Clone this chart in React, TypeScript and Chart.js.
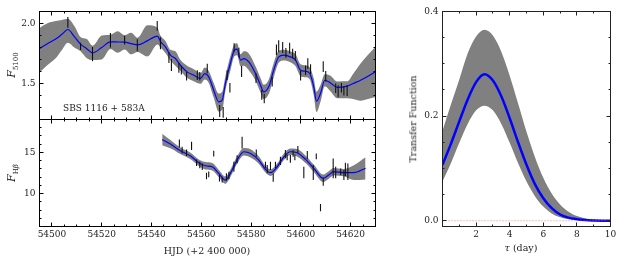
import React, { useEffect, useRef } from 'react';
import { Chart, registerables } from 'chart.js';
Chart.register(...registerables);

// ---------------- DATA ----------------
// Continuum light curve (F5100)
const contT = [54506.4, 54511.5, 54516.3, 54523.5, 54529.2, 54534.3, 54542.3, 54543.6, 54547.0, 54548.0, 54551.0, 54552.0, 54554.1, 54558.4, 54559.4, 54562.4, 54567.4, 54568.8, 54570.4, 54571.5, 54573.2, 54575.1, 54576.2, 54582.0, 54584.3, 54585.3, 54588.5, 54590.2, 54591.1, 54592.7, 54594.0, 54595.5, 54596.7, 54597.8, 54599.9, 54601.9, 54602.8, 54603.9, 54609.0, 54610.0, 54614.0, 54615.0, 54616.3, 54617.3, 54618.6];
const contF = [2.01, 1.81, 1.745, 1.86, 1.86, 1.818, 1.98, 1.835, 1.715, 1.655, 1.63, 1.61, 1.56, 1.57, 1.56, 1.625, 1.27, 1.26, 1.57, 1.465, 1.80, 1.758, 1.60, 1.545, 1.405, 1.375, 1.515, 1.78, 1.81, 1.80, 1.755, 1.795, 1.75, 1.73, 1.565, 1.61, 1.665, 1.62, 1.64, 1.56, 1.46, 1.435, 1.465, 1.44, 1.44];
const contE = [0.045, 0.03, 0.06, 0.06, 0.035, 0.05, 0.04, 0.05, 0.045, 0.05, 0.04, 0.035, 0.035, 0.04, 0.035, 0.04, 0.05, 0.045, 0.04, 0.04, 0.035, 0.04, 0.045, 0.04, 0.04, 0.04, 0.04, 0.045, 0.05, 0.045, 0.04, 0.045, 0.04, 0.04, 0.04, 0.04, 0.045, 0.04, 0.045, 0.045, 0.04, 0.05, 0.04, 0.04, 0.045];

// Continuum model (blue line) and its uncertainty band
const contModelT = [54495, 54498, 54501.5, 54504, 54506.4, 54509, 54511.5, 54514, 54516.3, 54520, 54523.5, 54526.4, 54529.2, 54531.8, 54534.4, 54538.3, 54542.4, 54543.6, 54545.6, 54547.6, 54549.6, 54551.6, 54554.3, 54557, 54559.7, 54561.4, 54563, 54565, 54567, 54568.4, 54569.7, 54571.7, 54573.3, 54574.4, 54575.8, 54577.1, 54579.1, 54581.8, 54583.8, 54585.1, 54587.1, 54589.1, 54591.1, 54593.2, 54595.8, 54597.9, 54599.9, 54601.9, 54603.6, 54605.2, 54606.3, 54607.9, 54609.6, 54611.9, 54614.6, 54618.6, 54621, 54624, 54627, 54630];
const contModelF = [1.792, 1.83, 1.87, 1.91, 1.95, 1.89, 1.828, 1.79, 1.755, 1.80, 1.847, 1.846, 1.844, 1.833, 1.822, 1.855, 1.895, 1.85, 1.805, 1.736, 1.708, 1.652, 1.597, 1.569, 1.542, 1.583, 1.555, 1.444, 1.347, 1.361, 1.502, 1.669, 1.777, 1.786, 1.694, 1.708, 1.68, 1.583, 1.486, 1.43, 1.472, 1.611, 1.722, 1.736, 1.722, 1.694, 1.611, 1.602, 1.583, 1.472, 1.352, 1.417, 1.527, 1.505, 1.467, 1.478, 1.50, 1.527, 1.56, 1.597];
const contModelUp = [0.17, 0.17, 0.15, 0.12, 0.09, 0.09, 0.06, 0.08, 0.06, 0.10, 0.06, 0.09, 0.06, 0.09, 0.06, 0.13, 0.07, 0.05, 0.05, 0.045, 0.06, 0.045, 0.05, 0.05, 0.045, 0.05, 0.05, 0.06, 0.07, 0.07, 0.06, 0.06, 0.05, 0.05, 0.05, 0.06, 0.07, 0.06, 0.06, 0.06, 0.06, 0.06, 0.05, 0.045, 0.045, 0.05, 0.05, 0.05, 0.05, 0.07, 0.08, 0.07, 0.05, 0.06, 0.05, 0.04, 0.08, 0.14, 0.18, 0.21];
const contModelDown = [0.20, 0.18, 0.16, 0.13, 0.11, 0.09, 0.06, 0.08, 0.06, 0.10, 0.06, 0.09, 0.06, 0.09, 0.06, 0.13, 0.07, 0.05, 0.05, 0.045, 0.06, 0.045, 0.05, 0.05, 0.045, 0.05, 0.05, 0.06, 0.08, 0.08, 0.06, 0.06, 0.05, 0.05, 0.05, 0.06, 0.07, 0.06, 0.06, 0.06, 0.06, 0.06, 0.05, 0.045, 0.045, 0.05, 0.05, 0.05, 0.05, 0.07, 0.09, 0.07, 0.05, 0.07, 0.09, 0.10, 0.13, 0.17, 0.19, 0.21];

// H-beta light curve
const hbT = [54551.2, 54552.3, 54554.1, 54556.1, 54558.1, 54559.4, 54560.4, 54562.1, 54563.0, 54565.0, 54567.3, 54568.4, 54570.1, 54571.1, 54573.1, 54574.4, 54576.4, 54582.1, 54585.8, 54586.5, 54587.8, 54588.9, 54589.8, 54591.8, 54593.8, 54594.5, 54595.8, 54596.9, 54597.6, 54598.8, 54601.2, 54602.6, 54605.0, 54606.2, 54607.9, 54609.0, 54613.0, 54614.0, 54616.0, 54617.3, 54617.9, 54618.9];
const hbF = [16.09, 15.28, 14.96, 15.79, 13.75, 13.47, 13.26, 12.14, 12.32, 14.84, 11.86, 11.69, 12.02, 12.2, 13.26, 14.17, 16.19, 14.92, 13.47, 12.96, 13.37, 11.95, 13.47, 13.97, 14.78, 14.4, 14.22, 14.86, 14.4, 15.37, 12.56, 14.68, 12.56, 14.52, 8.29, 11.45, 13.07, 12.56, 12.66, 12.26, 12.94, 12.66];
const hbE = [0.48, 0.4, 0.4, 0.5, 0.4, 0.4, 0.4, 0.4, 0.35, 0.35, 0.4, 0.35, 0.45, 0.45, 0.6, 0.5, 0.7, 0.45, 0.4, 0.5, 0.5, 0.5, 0.4, 0.5, 0.5, 0.36, 0.46, 0.4, 0.36, 0.4, 0.7, 0.5, 0.9, 0.36, 0.45, 0.5, 1.2, 0.7, 0.4, 0.6, 0.8, 1.0];

// H-beta model and band half-width
const hbModelT = [54544.3, 54547.6, 54551.6, 54555.7, 54559, 54561.7, 54564.4, 54567, 54569.7, 54571.7, 54574.4, 54577.1, 54579.8, 54583.1, 54585.8, 54587.8, 54590.5, 54593.2, 54595.8, 54598.5, 54601.9, 54605.2, 54609, 54611.2, 54613.2, 54617.3, 54621.3, 54626];
const hbModelF = [16.58, 16.01, 15.2, 14.56, 13.75, 13.38, 13.26, 12.46, 11.65, 12.46, 14.07, 15.08, 14.88, 14.07, 12.95, 12.54, 13.26, 14.47, 15.08, 14.96, 14.16, 13.07, 11.86, 12.26, 12.66, 12.54, 12.54, 13.07];
const hbModelW = [0.7, 0.5, 0.4, 0.4, 0.4, 0.45, 0.45, 0.45, 0.45, 0.45, 0.45, 0.45, 0.5, 0.45, 0.4, 0.4, 0.4, 0.4, 0.4, 0.45, 0.45, 0.45, 0.45, 0.45, 0.45, 0.45, 0.9, 1.35];

// Transfer function
const tau = [0, 0.5, 1, 1.5, 2, 2.5, 3, 3.5, 4, 4.5, 5, 5.5, 6, 6.5, 7, 7.5, 8, 8.5, 9, 9.5, 10];
const tfMedian = [0.107, 0.147, 0.19, 0.232, 0.265, 0.28, 0.268, 0.238, 0.196, 0.15, 0.107, 0.07, 0.043, 0.024, 0.012, 0.006, 0.003, 0.0012, 0.0005, 0.0002, 0.0001];
const tfHigh = [0.172, 0.222, 0.27, 0.32, 0.352, 0.365, 0.354, 0.323, 0.277, 0.224, 0.17, 0.122, 0.082, 0.052, 0.031, 0.0173, 0.009, 0.0045, 0.0021, 0.001, 0.0004];
const tfLow = [0.075, 0.11, 0.149, 0.185, 0.211, 0.22, 0.211, 0.185, 0.149, 0.11, 0.075, 0.047, 0.027, 0.014, 0.0067, 0.003, 0.0012, 0.0004, 0.0001, 0, 0];
const zeroLevel = 0;

// Tick labels
const hjdTicks = [54500, 54520, 54540, 54560, 54580, 54600, 54620];
const contYTicks = [1.5, 2.0];
const hbYTicks = [10, 15];
const tauTicks = [2, 4, 6, 8, 10];
const tfYTicks = [0.0, 0.2, 0.4];

// ---------------- STYLE ----------------
const FONT = 'DejaVu Serif';
const TXT = '#1c1c1c';
const GRAY = 'rgb(128,128,128)';
const BLUE = '#0000ff';

const frameTicks = {
  id: 'frameTicks',
  afterDraw(chart: any, _args: any, opts: any) {
    if (!opts || !opts.enabled) return;
    const { ctx, chartArea: a } = chart;
    const xs = chart.scales.x;
    const ys = chart.scales.y;
    ctx.save();
    ctx.strokeStyle = opts.color || '#000';
    ctx.lineWidth = 1;
    ctx.beginPath();
    const crisp = (p: number) => Math.round(p - 0.5) + 0.5;
    const drawAxis = (scale: any, majors: number[], minorStep: number, horizontal: boolean) => {
      const vals: { v: number; major: boolean }[] = [];
      majors.forEach((v) => vals.push({ v, major: true }));
      const k0 = Math.ceil(scale.min / minorStep - 1e-6);
      for (let k = k0; k * minorStep <= scale.max + 1e-9; k++) {
        const v = k * minorStep;
        if (!majors.some((m) => Math.abs(m - v) < minorStep / 100)) vals.push({ v, major: false });
      }
      vals.forEach(({ v, major }) => {
        const len = major ? opts.majorLen : opts.minorLen;
        const p = crisp(scale.getPixelForValue(v));
        if (horizontal) {
          if (p <= a.left + 1 || p >= a.right - 1) return;
          ctx.moveTo(p, a.bottom); ctx.lineTo(p, a.bottom - len);
          ctx.moveTo(p, a.top); ctx.lineTo(p, a.top + len);
        } else {
          if (p <= a.top + 1 || p >= a.bottom - 1) return;
          ctx.moveTo(a.left, p); ctx.lineTo(a.left + len, p);
          ctx.moveTo(a.right, p); ctx.lineTo(a.right - len, p);
        }
      });
    };
    drawAxis(xs, opts.xMajor, opts.xMinor, true);
    drawAxis(ys, opts.yMajor, opts.yMinor, false);
    ctx.stroke();
    ctx.strokeRect(a.left, a.top, a.right - a.left, a.bottom - a.top);
    ctx.restore();
  },
};

function errSegments(t: number[], f: number[], e: number[]) {
  const out: any[] = [];
  t.forEach((x, i) => {
    out.push({ x, y: f[i] - e[i] }, { x, y: f[i] + e[i] }, { x, y: null });
  });
  return out;
}
const pts = (t: number[], f: number[]) => t.map((x, i) => ({ x, y: f[i] }));

const tickFont = { family: FONT, size: 9 };

function yScale(min: number, max: number, ticks: number[], width: number, fmt: (v: number) => string) {
  return {
    type: 'linear',
    min,
    max,
    afterFit: (s: any) => { s.width = width; s.paddingTop = 0; s.paddingBottom = 0; },
    afterBuildTicks: (s: any) => { s.ticks = ticks.map((v) => ({ value: v })); },
    grid: { display: false, drawTicks: false },
    border: { display: false },
    ticks: { font: tickFont, color: TXT, padding: 4, callback: (v: any) => fmt(Number(v)) },
  };
}
function xScale(min: number, max: number, ticks: number[], show: boolean, fmt: (v: number) => string) {
  return {
    type: 'linear',
    min,
    max,
    display: show,
    afterFit: (s: any) => { s.height = show ? 37.5 : 0; s.paddingLeft = 0; s.paddingRight = 0; },
    afterBuildTicks: (s: any) => { s.ticks = ticks.map((v) => ({ value: v })); },
    grid: { display: false, drawTicks: false },
    border: { display: false },
    ticks: { font: tickFont, color: TXT, padding: 3, maxRotation: 0, autoSkip: false, callback: (v: any) => fmt(Number(v)) },
  };
}

function lightCurveConfig(opts: {
  modelT: number[]; modelF: number[]; up: number[]; down: number[];
  t: number[]; f: number[]; e: number[];
  ymin: number; ymax: number; yTicks: number[]; yMinor: number; showX: boolean; padding: any; yfmt: (v: number) => string;
}) {
  const { modelT, modelF, up, down } = opts;
  return {
    type: 'line',
    data: {
      datasets: [
        { data: modelT.map((x, i) => ({ x, y: modelF[i] + up[i] })), borderWidth: 0, pointRadius: 0, fill: '+1', backgroundColor: GRAY, borderColor: 'rgba(0,0,0,0)', cubicInterpolationMode: 'monotone', order: 3 },
        { data: modelT.map((x, i) => ({ x, y: modelF[i] - down[i] })), borderWidth: 0, pointRadius: 0, fill: false, borderColor: 'rgba(0,0,0,0)', cubicInterpolationMode: 'monotone', order: 4 },
        { data: pts(modelT, modelF), borderWidth: 1.2, borderColor: BLUE, pointRadius: 0, fill: false, cubicInterpolationMode: 'monotone', order: 2 },
        { data: errSegments(opts.t, opts.f, opts.e), borderWidth: 1.1, borderColor: '#111', pointRadius: 0, fill: false, spanGaps: false, tension: 0, order: 1 },
      ],
    },
    options: {
      animation: false,
      responsive: false,
      events: [],
      layout: { padding: opts.padding },
      plugins: {
        legend: { display: false },
        tooltip: { enabled: false },
        frameTicks: { enabled: true, xMajor: hjdTicks, xMinor: 5, yMajor: opts.yTicks, yMinor: opts.yMinor, majorLen: 4, minorLen: 2 },
      },
      scales: {
        x: xScale(54495, 54630, hjdTicks, opts.showX, (v) => String(v)),
        y: yScale(opts.ymin, opts.ymax, opts.yTicks, 39.5, opts.yfmt),
      },
    },
    plugins: [frameTicks],
  };
}

const abs = (style: any) => ({ position: 'absolute', fontFamily: FONT, color: TXT, whiteSpace: 'nowrap', lineHeight: 1, ...style });

export default function App() {
  const refA = useRef<HTMLCanvasElement>(null);
  const refB = useRef<HTMLCanvasElement>(null);
  const refC = useRef<HTMLCanvasElement>(null);

  useEffect(() => {
    const a = new Chart(refA.current as any, lightCurveConfig({
      modelT: contModelT, modelF: contModelF, up: contModelUp, down: contModelDown,
      t: contT, f: contF, e: contE,
      ymin: 1.2, ymax: 2.1, yTicks: contYTicks, yMinor: 0.1, showX: false,
      padding: { top: 11.5, right: 4.5, bottom: 0.5, left: 0 },
      yfmt: (v) => v.toFixed(1),
    }) as any);
    const b = new Chart(refB.current as any, lightCurveConfig({
      modelT: hbModelT, modelF: hbModelF, up: hbModelW, down: hbModelW,
      t: hbT, f: hbF, e: hbE,
      ymin: 6, ymax: 19, yTicks: hbYTicks, yMinor: 1, showX: true,
      padding: { top: 0.5, right: 4.5, bottom: 0, left: 0 },
      yfmt: (v) => String(Math.round(v)),
    }) as any);
    const c = new Chart(refC.current as any, {
      type: 'line',
      data: {
        datasets: [
          { data: pts(tau, tfHigh), borderWidth: 0, pointRadius: 0, fill: '+1', backgroundColor: GRAY, borderColor: 'rgba(0,0,0,0)', cubicInterpolationMode: 'monotone', order: 3 },
          { data: pts(tau, tfLow), borderWidth: 0, pointRadius: 0, fill: false, borderColor: 'rgba(0,0,0,0)', cubicInterpolationMode: 'monotone', order: 4 },
          { data: pts(tau, tfMedian), borderWidth: 2.5, borderColor: BLUE, pointRadius: 0, fill: false, cubicInterpolationMode: 'monotone', order: 2 },
          { data: [{ x: tau[0], y: zeroLevel }, { x: tau[tau.length - 1], y: zeroLevel }], borderWidth: 0.8, borderColor: '#ff5a5a', borderDash: [1, 2], pointRadius: 0, fill: false, order: 1 },
        ],
      },
      options: {
        animation: false,
        responsive: false,
        events: [],
        layout: { padding: { top: 11.5, right: 12.5, bottom: 0, left: 0 } },
        plugins: {
          legend: { display: false },
          tooltip: { enabled: false },
          frameTicks: { enabled: true, xMajor: tauTicks, xMinor: 1, yMajor: tfYTicks, yMinor: 0.05, majorLen: 4, minorLen: 2, color: '#222' },
        },
        scales: {
          x: xScale(0, 10, tauTicks, true, (v) => String(Math.round(v))),
          y: yScale(-0.011, 0.4, tfYTicks, 42.5, (v) => v.toFixed(1)),
        },
      },
      plugins: [frameTicks],
    } as any);
    return () => { a.destroy(); b.destroy(); c.destroy(); };
  }, []);

  return (
    <div style={{ position: 'absolute', left: 0, top: 0, width: 623, height: 264, background: '#fff', overflow: 'hidden' }}>
      <canvas ref={refA} width={380} height={120} style={{ position: 'absolute', left: 0, top: 0, width: 380, height: 120 }} />
      <canvas ref={refB} width={380} height={145} style={{ position: 'absolute', left: 0, top: 119, width: 380, height: 145 }} />
      <canvas ref={refC} width={223} height={264} style={{ position: 'absolute', left: 400, top: 0, width: 223, height: 264 }} />

      <div style={abs({ left: 11, top: 65, transform: 'translate(-50%,-50%) rotate(-90deg)', fontSize: 11 })}>
        <i>F</i><span style={{ fontSize: 7, position: 'relative', top: 2.5 }}>5100</span>
      </div>
      <div style={abs({ left: 11, top: 173, transform: 'translate(-50%,-50%) rotate(-90deg)', fontSize: 11 })}>
        <i>F</i><span style={{ fontSize: 7, position: 'relative', top: 2.5 }}>H<i>β</i></span>
      </div>
      <div style={abs({ left: 63, top: 104, fontSize: 9 })}>SBS 1116 + 583A</div>
      <div style={abs({ left: 207, top: 251, transform: 'translate(-50%,-50%)', fontSize: 9.5 })}>HJD (+2 400 000)</div>
      <div style={abs({ left: 413, top: 119, transform: 'translate(-50%,-50%) rotate(-90deg)', fontSize: 9.5 })}>Transfer Function</div>
      <div style={abs({ left: 521, top: 248, transform: 'translate(-50%,-50%)', fontSize: 9.5 })}><i>τ</i> (day)</div>
    </div>
  );
}
